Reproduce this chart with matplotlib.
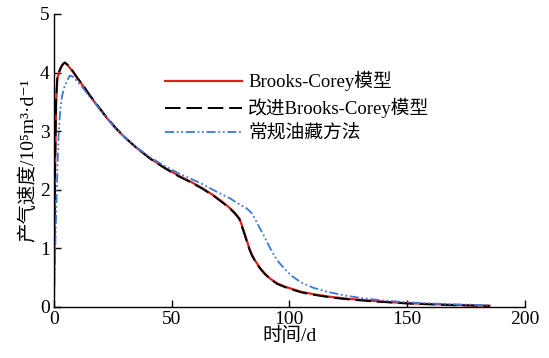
import matplotlib
matplotlib.use("Agg")
import matplotlib.pyplot as plt

plt.rcParams['font.family'] = ['Liberation Serif', 'Noto Sans CJK SC', 'DejaVu Serif']

# Brooks-Corey 模型
bc_t = [0, 0.3, 0.6, 1.0, 1.5, 2.2, 3.0, 4.0, 4.7, 6, 8, 10, 12.5, 15, 18, 22, 26, 30,
        35, 41, 47, 53, 58, 63, 68, 72, 75, 77, 78.8, 79.8, 80.9, 82, 83, 84, 85.5,
        87.5, 89.4, 92, 95, 98, 101, 105, 110, 118, 125, 131, 140, 150, 160, 170, 185]
bc_q = [0, 1.2, 2.5, 3.5, 3.9, 4.0, 4.08, 4.15, 4.17, 4.12, 4.02, 3.9, 3.77, 3.62, 3.46,
        3.25, 3.06, 2.9, 2.72, 2.53, 2.38, 2.24, 2.14, 2.03, 1.9, 1.78, 1.68, 1.6, 1.51,
        1.40, 1.27, 1.13, 1.00, 0.90, 0.79, 0.67, 0.58, 0.48, 0.40, 0.35, 0.31, 0.26,
        0.22, 0.17, 0.14, 0.12, 0.09, 0.065, 0.05, 0.035, 0.02]

# 改进 Brooks-Corey 模型
mbc_t = [0, 0.3, 0.6, 1.0, 1.5, 2.2, 3.0, 4.0, 4.7, 6, 8, 10, 12.5, 15, 18, 22, 26, 30,
         35, 41, 47, 53, 58, 63, 68, 72, 75, 77, 78.8, 79.8, 80.9, 82, 83, 84, 85.5,
         87.5, 89.4, 92, 95, 98, 101, 105, 110, 118, 125, 131, 140, 150, 160, 170, 185]
mbc_q = [0, 1.3, 2.6, 3.55, 3.92, 4.01, 4.09, 4.15, 4.17, 4.13, 4.03, 3.91, 3.78, 3.63,
         3.47, 3.26, 3.07, 2.9, 2.72, 2.53, 2.37, 2.23, 2.13, 2.02, 1.89, 1.77, 1.67,
         1.59, 1.50, 1.38, 1.25, 1.11, 0.99, 0.89, 0.78, 0.66, 0.57, 0.47, 0.39, 0.34,
         0.30, 0.25, 0.21, 0.16, 0.13, 0.11, 0.085, 0.06, 0.045, 0.03, 0.02]

# 常规油藏方法
conv_t = [0, 0.3, 0.6, 1.0, 1.5, 2.0, 2.7, 3.5, 4.5, 5.5, 6.8, 8, 10, 12.5, 15, 18, 22,
          26, 30, 35, 41, 47, 53, 58, 63, 68, 72, 75, 78, 82, 84, 85.5, 87, 89.4, 91.5,
          93.7, 96, 98.5, 101, 105, 110, 116, 123, 131, 140, 150, 160, 170, 185]
conv_q = [0, 0.5, 1.0, 1.6, 2.3, 2.9, 3.35, 3.6, 3.75, 3.85, 3.95, 3.93, 3.85, 3.73, 3.6,
          3.45, 3.25, 3.06, 2.9, 2.73, 2.55, 2.41, 2.28, 2.19, 2.1, 1.99, 1.91, 1.85,
          1.77, 1.68, 1.6, 1.5, 1.38, 1.20, 1.03, 0.87, 0.74, 0.63, 0.53, 0.42, 0.33,
          0.26, 0.2, 0.15, 0.11, 0.08, 0.06, 0.045, 0.03]

x_ticks = [0, 50, 100, 150, 200]
y_ticks = [0, 1, 2, 3, 4, 5]

fig = plt.figure(figsize=(5.49, 3.58), dpi=100)
ax = fig.add_axes([0.098, 0.1425, 0.858, 0.8185])

ax.plot(bc_t, bc_q, color="#d9231d", linewidth=1.6, label="Brooks-Corey模型")
ax.plot(mbc_t, mbc_q, color="black", linewidth=1.4, dashes=(8, 3),
        label="改进Brooks-Corey模型")
ax.plot(conv_t, conv_q, color="#3b7ad9", linewidth=1.3,
        dashes=(5, 1.5, 1, 1.5, 1, 1.5), label="常规油藏方法")

ax.set_xlim(0, 200)
ax.set_ylim(0, 5)
ax.set_xticks(x_ticks)
ax.set_yticks(y_ticks)
ax.spines["top"].set_visible(False)
ax.spines["right"].set_visible(False)
for s in ("left", "bottom"):
    ax.spines[s].set_linewidth(1.0)
ax.tick_params(direction="in", length=5, width=1.0, labelsize=14, pad=3)

ax.set_xlabel("时间/d", fontsize=14, labelpad=-1)
ax.set_ylabel("产气速度/10⁵m³·d⁻¹", fontsize=14, labelpad=2)

ax.legend(loc="center left", bbox_to_anchor=(0.3, 0.702), bbox_transform=fig.transFigure,
          frameon=False, fontsize=13.5, handlelength=4.1, handletextpad=0.35,
          labelspacing=0.35, borderpad=0, borderaxespad=0)

fig.savefig("out.png", dpi=100)
